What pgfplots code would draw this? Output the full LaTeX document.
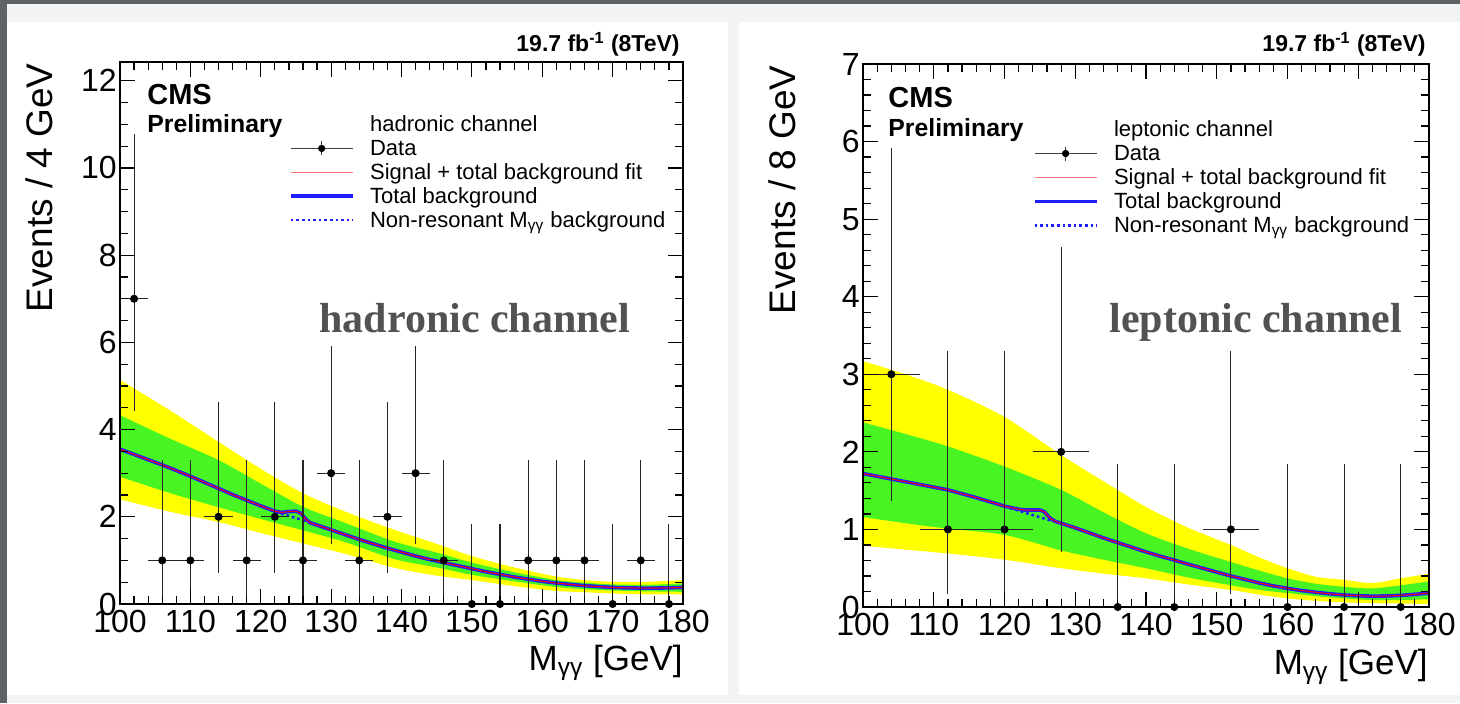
\documentclass[border=0pt]{standalone}
\usepackage{fontspec}
\setmainfont{Liberation Sans}
\newfontfamily\serifbf{Liberation Serif}
\usepackage{pgfplots}
\pgfplotsset{compat=1.18}
\usepgfplotslibrary{fillbetween}
\definecolor{frameg}{RGB}{95,99,104}
\definecolor{lightbg}{RGB}{241,243,244}
\definecolor{bandyellow}{RGB}{255,255,0}
\definecolor{bandgreen}{RGB}{72,245,34}
\definecolor{labelgray}{RGB}{82,82,82}
\definecolor{bkgblue}{RGB}{30,30,255}

\pgfplotsset{
  /tikz/fill between/on layer=main,
  cmsaxis/.style={
    anchor=south west, scale only axis,
    xmin=100, xmax=180, ymin=0,
    xtick={100,110,...,180}, minor x tick num=4,
    tick align=inside, major tick length=7.5pt, minor tick length=4pt,
    every tick/.style={black, line width=0.6pt},
    axis line style={line width=0.8pt},
    axis on top=true,
    tick label style={font=\fontsize{16}{17}\selectfont},
    /pgf/number format/assume math mode=true,
    yticklabel style={inner xsep=1.5pt},
    xticklabel style={inner ysep=3pt},
    legend style={anchor=north west, draw=none, fill=none, inner sep=0pt, outer sep=0pt,
      font=\fontsize{11}{12}\selectfont, row sep=0pt, column sep=0pt,
      cells={anchor=base west},
      nodes={inner sep=0pt, text height=8.2pt, text depth=3.75pt}},
  },
  dataimg/.style={legend image code/.code={
      \draw[black!75, line width=0.5pt] (0pt,3.5pt) -- (31pt,3.5pt);
      \draw[black!75, line width=0.5pt] (15.5pt,0pt) -- (15.5pt,7pt);
      \fill[black] (15.5pt,3.5pt) circle (1.6pt);
      \path (39.5pt,0pt);}},
  sigimg/.style={legend image code/.code={
      \draw[red!55, line width=0.6pt] (0pt,3.5pt) -- (31pt,3.5pt);
      \path (39.5pt,0pt);}},
  totimg/.style={legend image code/.code={
      \draw[bkgblue, line width=1.8pt] (0pt,3.5pt) -- (31pt,3.5pt);
      \path (39.5pt,0pt);}},
  nrimg/.style={legend image code/.code={
      \draw[bkgblue, line width=1.3pt, dash pattern=on 1.3pt off 1.5pt] (0pt,3.5pt) -- (31pt,3.5pt);
      \path (39.5pt,0pt);}},
  databars/.style={only marks, mark=*, mark size=1.8pt, black, forget plot,
    error bars/.cd, x dir=both, x explicit, y dir=both, y explicit,
    error bar style={line width=0.55pt, black!85}, error mark=none},
}

\begin{document}
\begin{tikzpicture}
\fill[frameg] (0,0) rectangle (730pt,351.5pt);
\fill[lightbg] (3.5pt,0pt) rectangle (730pt,349.5pt);
\fill[white] (3.5pt,4pt) rectangle (364pt,340.5pt);
\fill[white] (369.5pt,4pt) rectangle (730pt,340.5pt);

% ---------------- hadronic ----------------
\begin{axis}[cmsaxis, at={(60pt,49.5pt)}, width=281.5pt, height=271pt,
  ymax=12.43, ytick={0,2,...,12}, minor y tick num=3,
  legend style={at={(0.300,0.9020)}}]
\addlegendimage{empty legend}\addlegendentry{hadronic channel}
\addlegendimage{dataimg}\addlegendentry{Data}
\addlegendimage{sigimg}\addlegendentry{Signal + total background fit}
\addlegendimage{totimg}\addlegendentry{Total background}
\addlegendimage{nrimg}\addlegendentry{Non-resonant M\textsubscript{γγ} background}

\addplot[name path=hyt, draw=none, smooth, forget plot] coordinates {
(100,5.14) (107,4.45) (114,3.72) (120,3.10) (126,2.54) (132,2.12) (139,1.70) (145,1.38) (150,1.10) (156,0.84) (162,0.63) (166,0.55) (170,0.51) (175,0.51) (180,0.55)};
\addplot[name path=hgt, draw=none, smooth, forget plot] coordinates {
(100,4.33) (107,3.80) (114,3.30) (120,2.76) (126,2.23) (132,1.86) (139,1.43) (145,1.18) (150,0.95) (156,0.73) (162,0.55) (166,0.49) (170,0.45) (175,0.44) (180,0.47)};
\addplot[name path=hgb, draw=none, smooth, forget plot] coordinates {
(100,2.92) (107,2.55) (114,2.22) (120,1.95) (126,1.69) (132,1.42) (139,1.03) (145,0.84) (150,0.67) (156,0.52) (162,0.39) (166,0.34) (170,0.31) (175,0.29) (180,0.28)};
\addplot[name path=hyb, draw=none, smooth, forget plot] coordinates {
(100,2.40) (107,2.12) (114,1.88) (120,1.63) (126,1.39) (132,1.15) (139,0.83) (145,0.65) (150,0.55) (156,0.41) (162,0.30) (166,0.27) (170,0.24) (175,0.22) (180,0.22)};
\addplot[fill=bandyellow, draw=none, forget plot] fill between[of=hyt and hyb];
\addplot[fill=bandgreen, draw=none, forget plot] fill between[of=hgt and hgb];

% non-resonant background
\addplot[bkgblue, line width=1.3pt, dash pattern=on 1.3pt off 1.5pt, smooth, forget plot] coordinates {
(100,3.55) (104,3.31) (106,3.19) (110,2.93) (114,2.65) (118,2.38) (122,2.12) (124,2.02) (126,1.92) (128,1.81) (130,1.70) (134,1.48) (138,1.28) (142,1.10) (146,0.95) (150,0.81) (154,0.68) (158,0.57) (162,0.48) (166,0.42) (170,0.38) (174,0.365) (178,0.37) (180,0.38)};
% total background
\addplot[bkgblue, line width=1.8pt, forget plot] coordinates {
(100,3.55) (102,3.43) (104,3.31) (106,3.19) (108,3.06) (110,2.93) (112,2.79) (114,2.65) (116,2.51) (118,2.38) (120,2.25) (122,2.13) (123,2.10) (124,2.12) (125,2.13) (125.7,2.08) (126.5,1.93) (127,1.865) (128,1.81) (130,1.70) (132,1.59) (134,1.48) (136,1.38) (138,1.28) (140,1.19) (142,1.10) (144,1.02) (146,0.95) (148,0.88) (150,0.81) (152,0.74) (154,0.68) (156,0.62) (158,0.57) (160,0.52) (162,0.48) (164,0.45) (166,0.42) (168,0.40) (170,0.38) (172,0.37) (174,0.365) (176,0.365) (178,0.37) (180,0.38)};
% signal + background
\addplot[red, line width=0.5pt, forget plot] coordinates {
(100,3.55) (102,3.43) (104,3.31) (106,3.19) (108,3.06) (110,2.93) (112,2.79) (114,2.65) (116,2.51) (118,2.38) (120,2.25) (122,2.13) (123,2.10) (124,2.12) (125,2.13) (125.7,2.08) (126.5,1.93) (127,1.865) (128,1.81) (130,1.70) (132,1.59) (134,1.48) (136,1.38) (138,1.28) (140,1.19) (142,1.10) (144,1.02) (146,0.95) (148,0.88) (150,0.81) (152,0.74) (154,0.68) (156,0.62) (158,0.57) (160,0.52) (162,0.48) (164,0.45) (166,0.42) (168,0.40) (170,0.38) (172,0.37) (174,0.365) (176,0.365) (178,0.37) (180,0.38)};

\addplot[databars] table[x=x, y=y, x error=ex, y error plus=eyp, y error minus=eym] {
x y ex eyp eym
102 7 2 3.770 2.580
106 1 2 2.300 0.827
110 1 2 2.300 0.827
114 2 2 2.638 1.292
118 1 2 2.300 0.827
122 2 2 2.638 1.292
126 1 2 2.300 0.827
130 3 2 2.918 1.633
134 1 2 2.300 0.827
138 2 2 2.638 1.292
142 3 2 2.918 1.633
146 1 2 2.300 0.827
150 0 2 1.841 0
154 0 2 1.841 0
158 1 2 2.300 0.827
162 1 2 2.300 0.827
166 1 2 2.300 0.827
170 0 2 1.841 0
174 1 2 2.300 0.827
178 0 2 1.841 0
};
\end{axis}

% ---------------- leptonic ----------------
\begin{axis}[cmsaxis, at={(431.5pt,48pt)}, width=283pt, height=271.5pt,
  ymax=7, ytick={0,1,...,7}, minor y tick num=4,
  legend style={at={(0.300,0.8965)}}]
\addlegendimage{empty legend}\addlegendentry{leptonic channel}
\addlegendimage{dataimg}\addlegendentry{Data}
\addlegendimage{sigimg}\addlegendentry{Signal + total background fit}
\addlegendimage{totimg}\addlegendentry{Total background}
\addlegendimage{nrimg}\addlegendentry{Non-resonant M\textsubscript{γγ} background}

\addplot[name path=lyt, draw=none, smooth, forget plot] coordinates {
(100,3.17) (106,3.00) (112,2.80) (120,2.45) (128,1.96) (134,1.62) (140,1.29) (146,1.02) (152,0.80) (156,0.64) (160,0.50) (164,0.39) (168,0.35) (172,0.31) (176,0.37) (180,0.43)};
\addplot[name path=lgt, draw=none, smooth, forget plot] coordinates {
(100,2.38) (106,2.23) (112,2.07) (120,1.81) (128,1.51) (134,1.22) (140,0.95) (146,0.75) (152,0.58) (156,0.47) (160,0.37) (164,0.30) (168,0.26) (172,0.24) (176,0.28) (180,0.33)};
\addplot[name path=lgb, draw=none, smooth, forget plot] coordinates {
(100,1.16) (106,1.08) (112,1.01) (120,0.93) (128,0.73) (134,0.61) (140,0.50) (146,0.38) (152,0.28) (156,0.22) (160,0.18) (164,0.14) (168,0.11) (172,0.09) (176,0.09) (180,0.10)};
\addplot[name path=lyb, draw=none, smooth, forget plot] coordinates {
(100,0.79) (106,0.74) (112,0.69) (120,0.61) (128,0.50) (134,0.43) (140,0.37) (146,0.29) (152,0.22) (156,0.16) (160,0.11) (164,0.08) (168,0.06) (172,0.05) (176,0.045) (180,0.04)};
\addplot[fill=bandyellow, draw=none, forget plot] fill between[of=lyt and lyb];
\addplot[fill=bandgreen, draw=none, forget plot] fill between[of=lgt and lgb];

\addplot[bkgblue, line width=1.3pt, dash pattern=on 1.3pt off 1.5pt, smooth, forget plot] coordinates {
(100,1.72) (104,1.65) (108,1.58) (112,1.51) (116,1.41) (120,1.30) (124,1.185) (126,1.13) (128,1.08) (132,0.955) (136,0.83) (140,0.71) (144,0.605) (148,0.50) (152,0.40) (156,0.31) (160,0.24) (164,0.19) (168,0.155) (172,0.14) (176,0.15) (180,0.18)};
\addplot[bkgblue, line width=1.8pt, forget plot] coordinates {
(100,1.72) (102,1.685) (104,1.65) (106,1.615) (108,1.58) (110,1.545) (112,1.51) (114,1.46) (116,1.41) (118,1.355) (120,1.30) (122,1.26) (123,1.25) (124,1.25) (125,1.25) (125.6,1.23) (126.5,1.14) (127.3,1.10) (128,1.08) (130,1.02) (132,0.955) (134,0.89) (136,0.83) (138,0.77) (140,0.71) (142,0.655) (144,0.605) (146,0.55) (148,0.50) (150,0.45) (152,0.40) (154,0.355) (156,0.31) (158,0.272) (160,0.24) (162,0.212) (164,0.19) (166,0.17) (168,0.155) (170,0.145) (172,0.14) (174,0.142) (176,0.15) (178,0.163) (180,0.18)};
\addplot[red, line width=0.5pt, forget plot] coordinates {
(100,1.72) (102,1.685) (104,1.65) (106,1.615) (108,1.58) (110,1.545) (112,1.51) (114,1.46) (116,1.41) (118,1.355) (120,1.30) (122,1.26) (123,1.25) (124,1.25) (125,1.25) (125.6,1.23) (126.5,1.14) (127.3,1.10) (128,1.08) (130,1.02) (132,0.955) (134,0.89) (136,0.83) (138,0.77) (140,0.71) (142,0.655) (144,0.605) (146,0.55) (148,0.50) (150,0.45) (152,0.40) (154,0.355) (156,0.31) (158,0.272) (160,0.24) (162,0.212) (164,0.19) (166,0.17) (168,0.155) (170,0.145) (172,0.14) (174,0.142) (176,0.15) (178,0.163) (180,0.18)};

\addplot[databars] table[x=x, y=y, x error=ex, y error plus=eyp, y error minus=eym] {
x y ex eyp eym
104 3 4 2.918 1.633
112 1 4 2.300 0.827
120 1 4 2.300 0.827
128 2 4 2.638 1.292
136 0 4 1.841 0
144 0 4 1.841 0
152 1 4 2.300 0.827
160 0 4 1.841 0
168 0 4 1.841 0
176 0 4 1.841 0
};
\end{axis}

% ---------------- texts (pixel coordinates) ----------------
\begin{scope}[x=0.5pt, y=-0.5pt, shift={(0pt,351.5pt)}]
  % left panel
  \node[anchor=base east, inner sep=0pt, font=\bfseries\fontsize{11.5}{12}\selectfont] at (680,52) {19.7 fb\textsuperscript{-1} (8TeV)};
  \node[anchor=base west, inner sep=0pt, font=\bfseries\fontsize{14.5}{15}\selectfont] at (147,105) {CMS};
  \node[anchor=base west, inner sep=0pt, font=\bfseries\fontsize{12.4}{13}\selectfont] at (147,133) {Preliminary};
  \node[rotate=90, anchor=base east, inner sep=0pt, font=\fontsize{18.5}{19}\selectfont] at (52,63) {Events / 4 GeV};
  \node[anchor=base east, inner sep=0pt, font=\fontsize{17.5}{18}\selectfont] at (683,670) {M\textsubscript{γγ} [GeV]};
  \node[anchor=base west, inner sep=0pt, text=labelgray, font=\serifbf\bfseries\fontsize{21}{22}\selectfont] at (319,332) {hadronic channel};
  % right panel
  \node[anchor=base east, inner sep=0pt, font=\bfseries\fontsize{11.5}{12}\selectfont] at (1426,52) {19.7 fb\textsuperscript{-1} (8TeV)};
  \node[anchor=base west, inner sep=0pt, font=\bfseries\fontsize{14.5}{15}\selectfont] at (888,107) {CMS};
  \node[anchor=base west, inner sep=0pt, font=\bfseries\fontsize{12.4}{13}\selectfont] at (888,136) {Preliminary};
  \node[rotate=90, anchor=base east, inner sep=0pt, font=\fontsize{18.5}{19}\selectfont] at (795,65) {Events / 8 GeV};
  \node[anchor=base east, inner sep=0pt, font=\fontsize{17.5}{18}\selectfont] at (1428,674) {M\textsubscript{γγ} [GeV]};
  \node[anchor=base west, inner sep=0pt, text=labelgray, font=\serifbf\bfseries\fontsize{21}{22}\selectfont] at (1109,332) {leptonic channel};
\end{scope}
\pgfresetboundingbox
\path[use as bounding box] (0,0) rectangle (730pt,351.5pt);
\end{tikzpicture}
\end{document}
